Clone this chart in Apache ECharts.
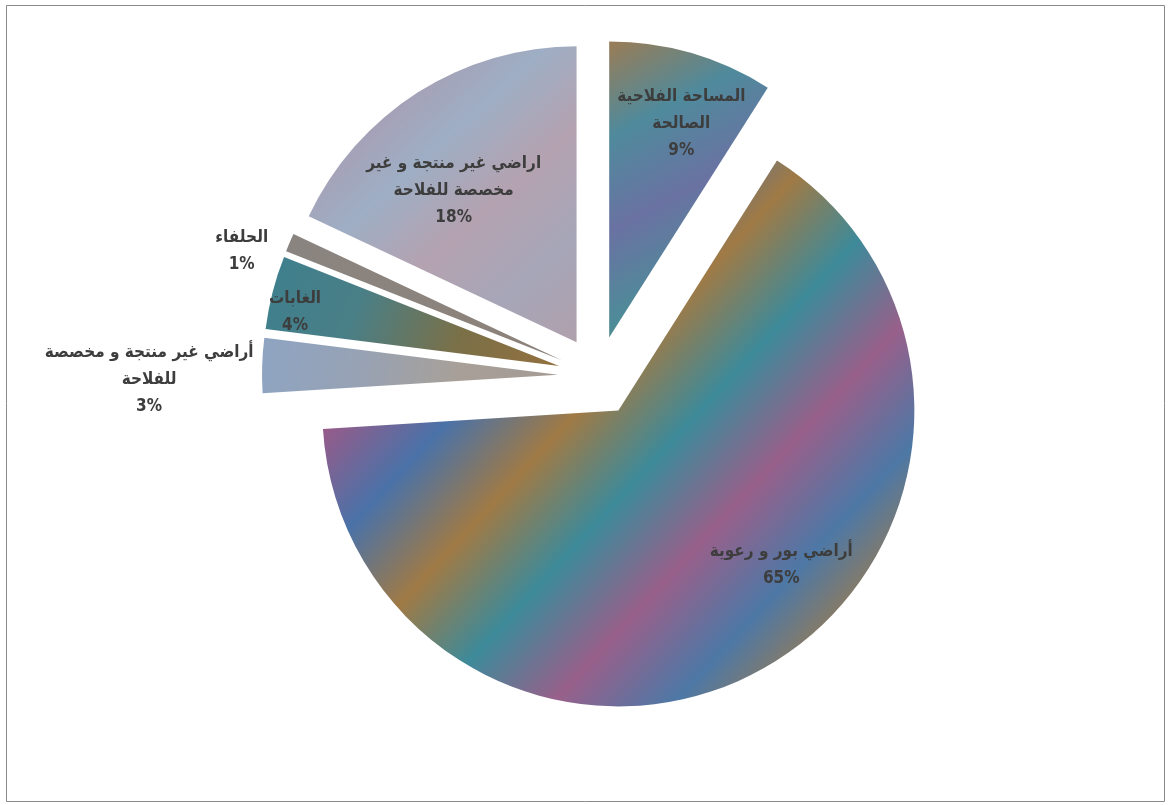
<!DOCTYPE html>
<html>
<head>
<meta charset="utf-8">
<style>
  html, body { margin: 0; padding: 0; background: #ffffff; }
  #chart { width: 1170px; height: 805px; }
</style>
<script src="https://cdn.jsdelivr.net/npm/echarts@6/dist/echarts.min.js"></script>
</head>
<body>
<div id="chart"></div>
<script>
// Land use shares (%)
const categories = [
  'المساحة الفلاحية\nالصالحة',
  'أراضي بور و رعوية',
  'أراضي غير منتجة و مخصصة\nللفلاحة',
  'الغابات',
  'الحلفاء',
  'اراضي غير منتجة و غير\nمخصصة للفلاحة'
];
const shares = [9, 65, 3, 4, 1, 18];

// Slice fills (diagonal multi-tone gradients)
const sliceFills = [
  ['#9a7c55', '#4f8a9c', '#6a72a2', '#4d8c98', '#8c7a50'],
  ['#a07a48', '#3f88a0', '#9a5a88', '#4a72a8', '#a07a45', '#3d8a9a', '#98608a', '#4d78a6', '#a27c48', '#3f8aa0'],
  ['#8ea4c2', '#97a2b4', '#a8a098', '#a49c94'],
  ['#3d7f8e', '#4a7f86', '#7a7048', '#94703e'],
  ['#8a8480', '#8c827a'],
  ['#6aa0a2', '#a89cb2', '#9eaec4', '#b4a2b0', '#a6a6b8', '#b0a0ac']
];

// Label nudges from the default inside position
const labelShift = [[30, -69], [86, 25], [-258, 10], [-118, -16], [-181, -49], [-42, -24]];

function gradient(stops) {
  return {
    type: 'linear', x: 0, y: 0, x2: 1, y2: 1,
    colorStops: stops.map((c, i) => ({ offset: stops.length > 1 ? i / (stops.length - 1) : 0, color: c }))
  };
}

const chart = echarts.init(document.getElementById('chart'), null, { renderer: 'canvas' });

chart.setOption({
  backgroundColor: '#ffffff',
  animation: false,
  graphic: [{
    type: 'rect',
    shape: { x: 6.5, y: 5.5, width: 1158, height: 796 },
    style: { fill: 'none', stroke: '#8a8a8a', lineWidth: 1 },
    silent: true
  }],
  series: [{
    type: 'pie',
    center: [598, 376],
    radius: 296,
    startAngle: 90,
    clockwise: true,
    selectedMode: 'multiple',
    selectedOffset: 40,
    avoidLabelOverlap: false,
    emphasis: { disabled: true },
    select: { itemStyle: { borderWidth: 0 } },
    itemStyle: { borderWidth: 0 },
    label: {
      show: true,
      position: 'inside',
      formatter: p => p.name + '\n' + p.value + '%',
      fontFamily: '"DejaVu Sans Condensed", "DejaVu Sans", sans-serif',
      fontSize: 17,
      fontWeight: 'bold',
      lineHeight: 27,
      color: '#3d3d3d',
      align: 'center'
    },
    labelLine: { show: false },
    labelLayout: p => ({ dx: labelShift[p.dataIndex][0], dy: labelShift[p.dataIndex][1] }),
    data: categories.map((name, i) => ({
      name: name,
      value: shares[i],
      selected: true,
      itemStyle: { color: gradient(sliceFills[i]) }
    }))
  }]
});
</script>
</body>
</html>
